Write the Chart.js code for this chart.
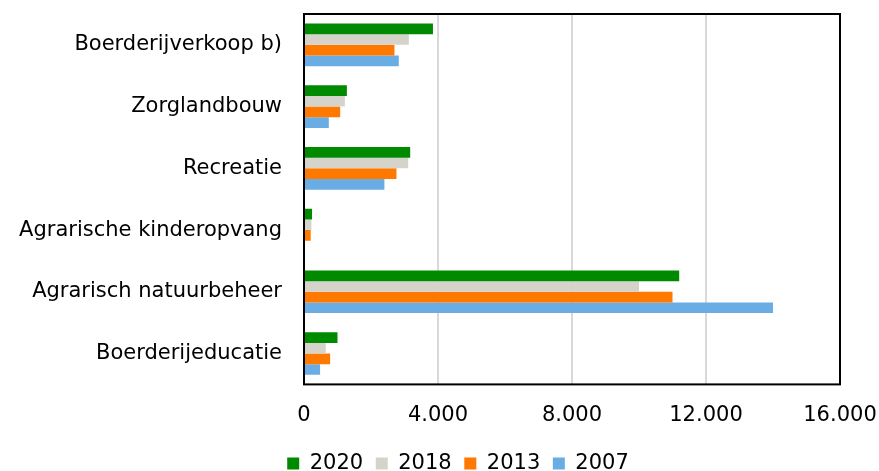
<!DOCTYPE html>
<html>
<head>
<meta charset="utf-8">
<script src="https://cdn.jsdelivr.net/npm/chart.js@4/dist/chart.umd.min.js"></script>
<style>
  html, body { margin: 0; padding: 0; background: #fff; }
  #wrap { width: 879px; height: 471px; }
</style>
</head>
<body>
<div id="wrap"><canvas id="barChart" width="879" height="471"></canvas></div>
<script>
const categories = ['Boerderijverkoop b)', 'Zorglandbouw', 'Recreatie', 'Agrarische kinderopvang', 'Agrarisch natuurbeheer', 'Boerderijeducatie'];
const years = ['2020', '2018', '2013', '2007'];
const values2020 = [3850, 1280, 3170, 240, 11200, 1000];
const values2018 = [3130, 1220, 3110, 220, 10000, 650];
const values2013 = [2700, 1080, 2760, 200, 11000, 780];
const values2007 = [2830, 740, 2400, 0, 14000, 480];
const xTicks = [0, 4000, 8000, 12000, 16000];

const colors = ['#008a00', '#d6d3cb', '#ff7900', '#6aade4'];
const series = [values2020, values2018, values2013, values2007];

function dots(v) {
  return String(v).replace(/\B(?=(\d{3})+(?!\d))/g, '.');
}

// black frame round the plot area, legend nudged right like the original
const boxPlugin = {
  id: 'plotBox',
  afterLayout(chart) {
    chart.legend.left += 38;
    chart.legend.right += 38;
  },
  afterDraw(chart) {
    const a = chart.chartArea;
    const c = chart.ctx;
    c.save();
    c.strokeStyle = '#000';
    c.lineWidth = 2;
    c.strokeRect(a.left, a.top, a.right - a.left, a.bottom - a.top);
    c.restore();
  }
};

Chart.defaults.font.family = 'Verdana, "DejaVu Sans", sans-serif';
Chart.defaults.color = '#000';

const ctx = document.getElementById('barChart').getContext('2d');
const chart = new Chart(ctx, {
  type: 'bar',
  data: {
    labels: categories,
    datasets: years.map((y, i) => ({
      label: y,
      data: series[i],
      backgroundColor: colors[i],
      borderWidth: 0,
      barPercentage: 1,
      categoryPercentage: 0.69
    }))
  },
  options: {
    indexAxis: 'y',
    responsive: false,
    animation: false,
    layout: { padding: { top: 14, right: 39, left: 0, bottom: -13 } },
    scales: {
      x: {
        min: xTicks[0],
        max: xTicks[xTicks.length - 1],
        afterBuildTicks: s => { s.ticks = xTicks.map(v => ({ value: v })); },
        afterFit: s => { s.height = 56; s.paddingLeft = 0; s.paddingRight = 0; },
        grid: { color: '#d9d9d9', lineWidth: 2, drawTicks: false },
        border: { display: false },
        ticks: {
          padding: 19,
          font: { size: 21 },
          callback: v => dots(v)
        }
      },
      y: {
        afterFit: s => { s.width = 304; s.paddingTop = 0; s.paddingBottom = 0; },
        grid: { display: false },
        border: { display: false },
        ticks: { padding: 14, font: { size: 21 } }
      }
    },
    plugins: {
      legend: {
        position: 'bottom',
        labels: {
          boxWidth: 12,
          boxHeight: 12,
          padding: 12.6,
          font: { size: 21 }
        }
      },
      tooltip: { enabled: false }
    }
  },
  plugins: [boxPlugin]
});
</script>
</body>
</html>
